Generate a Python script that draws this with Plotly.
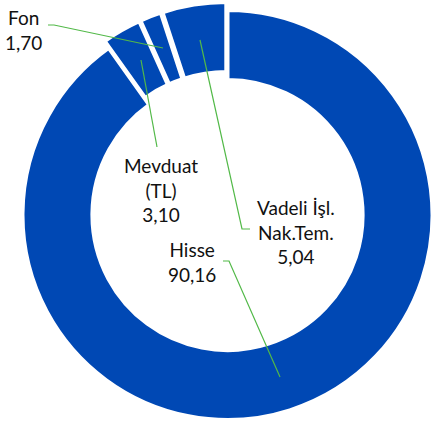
import plotly.graph_objects as go

# Data
categories = ["Hisse", "Mevduat (TL)", "Fon", "Vadeli İşl. Nak.Tem."]
values = [90.16, 3.10, 1.70, 5.04]
label_texts = ["Hisse<br>90,16", "Mevduat<br>(TL)<br>3,10", "Fon<br>1,70", "Vadeli İşl.<br>Nak.Tem.<br>5,04"]

W, H = 433, 425
BLUE = "#0048B4"
GREEN = "#52B948"
CX, CY = 227.5, 215.0   # pixel centre of donut
R = 205.0               # pixel radius
HOLE = 0.659
# explosion offsets (px) for each slice: (dx, dy) in screen px
offsets = [(0, 0), (-4.0, -6.9), (-2.9, -7.5), (-1.2, -7.9)]

def px(x):
    return x / W

def py(y):
    return 1 - y / H

fig = go.Figure()
for i, cat in enumerate(categories):
    dx, dy = offsets[i]
    cx, cy = CX + dx, CY + dy
    colors = [BLUE if j == i else "rgba(0,0,0,0)" for j in range(len(values))]
    widths = [4 if j == i else 0 for j in range(len(values))]
    fig.add_trace(go.Pie(
        labels=categories, values=values, sort=False, direction="clockwise",
        rotation=0, hole=HOLE, textinfo="none", textposition="none",
        hoverinfo="label+value", showlegend=False,
        marker=dict(colors=colors, line=dict(color="white", width=widths)),
        domain=dict(x=[px(cx - R), px(cx + R)], y=[py(cy + R), py(cy - R)]),
    ))

# label positions (pixel centres) and leader paths
label_pos = [(192, 262), (161, 190), (23, 30), (296, 232)]
leaders = [
    [(223, 261), (229, 261), (280, 377)],
    [(157, 147), (141, 60)],
    [(48, 25), (54, 25), (163, 48)],
    [(250, 229), (242, 229), (200, 40)],
]

for (x, y), t in zip(label_pos, label_texts):
    fig.add_annotation(x=px(x), y=py(y), xref="paper", yref="paper", text=t,
                       showarrow=False, xanchor="center", yanchor="middle",
                       font=dict(family="Lato", size=19, color="#111111"))

for pts in leaders:
    path = "M " + " L ".join(f"{px(x)},{py(y)}" for x, y in pts)
    fig.add_shape(type="path", path=path, xref="paper", yref="paper",
                  line=dict(color=GREEN, width=1.2))

fig.update_layout(width=W, height=H, margin=dict(l=0, r=0, t=0, b=0),
                  paper_bgcolor="white", plot_bgcolor="white")
fig.write_html("out.html", config={"displayModeBar": False},
               post_script="document.body.style.margin='0';document.body.style.overflow='hidden';")
